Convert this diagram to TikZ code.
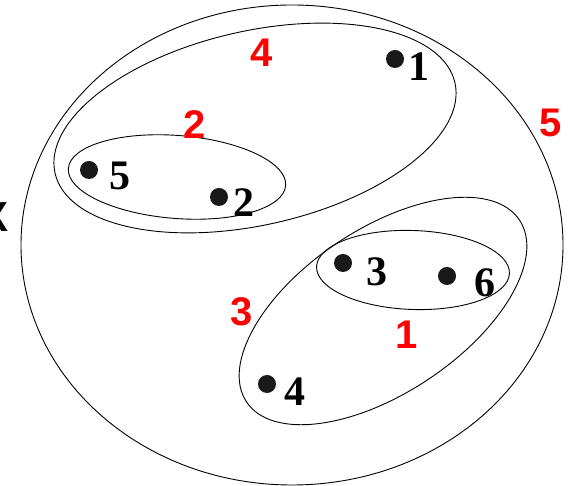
\documentclass[tikz,border=0pt]{standalone}
\usepackage{fontspec}
\setmainfont{Liberation Serif}
\newfontfamily\lsans{Liberation Sans}
\tikzset{
  setline/.style={draw=black, line width=0.9pt},
  dot/.style={circle, fill=black!90, inner sep=0pt, minimum size=18pt},
  elem/.style={inner sep=0pt, font=\fontsize{42}{42}\selectfont\bfseries},
  setlab/.style={inner sep=0pt, text=red, font=\lsans\fontsize{40}{40}\selectfont\bfseries},
  univ/.style={inner sep=0pt, text=black, font=\lsans\fontsize{42}{42}\selectfont\bfseries}
}
\begin{document}
\begin{tikzpicture}[x=1pt,y=1pt]
\useasboundingbox (0,0) rectangle (570,486);
% sets
\draw[setline] (292,241) ellipse [x radius=271, y radius=240];
\draw[setline, rotate around={12.75:(255,358)}] (255,358) ellipse [x radius=205, y radius=97];
\draw[setline, rotate around={-4.5:(177,309)}] (177,309) ellipse [x radius=109, y radius=41.5];
\draw[setline, rotate around={33.7:(383,175)}] (383,175) ellipse [x radius=164, y radius=82];
\draw[setline, rotate around={-2:(413,216)}] (413,216) ellipse [x radius=96.5, y radius=39.5];
% points
\node[dot] (d1) at (395,427) {};
\node[dot] (d5) at (89,316) {};
\node[dot] (d2) at (219,289) {};
\node[dot] (d3) at (343,223) {};
\node[dot] (d6) at (447,210) {};
\node[dot] (d4) at (267,102) {};
% element labels
\node[elem] (l1) at (419,419.5) {1};
\node[elem] (l5) at (120,310) {5};
\node[elem] (l2) at (244,283.5) {2};
\node[elem] (l3) at (377,214.5) {3};
\node[elem] (l6) at (485,203.5) {6};
\node[elem] (l4) at (295,94) {4};
% set labels
\node[setlab] (s4) at (262,433) {4};
\node[setlab] (s2) at (195,361) {2};
\node[setlab] (s3) at (242,174.5) {3};
\node[setlab] (s1) at (407,151) {1};
\node[setlab] (s5) at (551,363.5) {5};
\node[univ] (X) at (-5,269) {X};
\end{tikzpicture}
\end{document}
